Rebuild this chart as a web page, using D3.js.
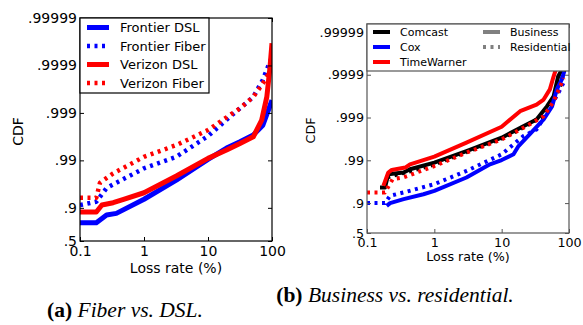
<!DOCTYPE html>
<html>
<head>
<meta charset="utf-8">
<script src="https://cdn.jsdelivr.net/npm/d3@7"></script>
<style>
  body { margin: 0; background: #fff; }
  svg { display: block; }
</style>
</head>
<body>
<svg class="chartSVG" width="583" height="325"></svg>
<script>
// ---- data: loss rate (%) and CDF ----
// (a) Fiber vs. DSL
const frontierDslLoss = [0.1, 0.18, 0.26, 0.37, 1, 3.2, 10, 19.5, 31.6, 51, 72, 100]
const frontierDslCdf = [0.794, 0.794, 0.858, 0.869, 0.934, 0.974, 0.9905, 0.99449, 0.99594, 0.99707, 0.99819, 0.99946]
const frontierFiberLoss = [0.1, 0.18, 0.26, 0.37, 1, 3.2, 10, 22, 31.6, 51, 72, 88, 100]
const frontierFiberCdf = [0.9127, 0.9256, 0.9617, 0.9704, 0.98528, 0.9916, 0.99692, 0.99879, 0.9992, 0.99954, 0.9998, 0.9999, 0.999934]
const verizonDslLoss = [0.1, 0.18, 0.22, 0.33, 0.48, 1, 3.2, 10, 19.5, 31.6, 51, 69, 83, 93, 100]
const verizonDslCdf = [0.8775, 0.8775, 0.9127, 0.9219, 0.934, 0.9519, 0.9786, 0.99092, 0.99393, 0.99561, 0.99682, 0.99858, 0.99954, 0.99989, 0.999966]
const verizonFiberLoss = [0.1, 0.18, 0.205, 0.33, 1, 3.2, 10, 22, 31.6, 51, 72, 91, 100]
const verizonFiberCdf = [0.9388, 0.9388, 0.9704, 0.9812, 0.9916, 0.99524, 0.9977, 0.99889, 0.9992, 0.99954, 0.99976, 0.99986, 0.99989]

// (b) Business vs. residential
const comcastBizLoss = [0.156, 0.185, 0.207, 0.35, 0.435, 1, 3, 10, 21, 33, 47, 59, 69, 78, 85]
const comcastBizCdf = [0.957, 0.957, 0.9788, 0.9807, 0.9838, 0.9887, 0.99392, 0.99704, 0.99841, 0.99889, 0.99945, 0.99968, 0.99989, 0.999923, 0.99997]
const comcastResLoss = [0.2, 0.3, 0.5, 1, 3, 10, 21, 42, 59, 74, 85]
const comcastResCdf = [0.975, 0.979, 0.983, 0.9875, 0.9936, 0.9969, 0.9983, 0.9991, 0.99962, 0.99982, 0.99992]
const coxBizLoss = [0.196, 0.22, 0.35, 0.69, 1, 3, 6.7, 10, 15, 17.8, 26, 42, 56, 66, 78, 85]
const coxBizCdf = [0.884, 0.9, 0.919, 0.938, 0.948, 0.9748, 0.9876, 0.99016, 0.99276, 0.99535, 0.99752, 0.99889, 0.99945, 0.99978, 0.99987, 0.999916]
const coxResLoss = [0.1, 0.185, 0.22, 0.35, 1, 3, 10, 21, 33, 47, 59, 74, 87]
const coxResCdf = [0.9, 0.9, 0.9324, 0.9436, 0.9639, 0.9823, 0.99276, 0.99728, 0.9981, 0.99922, 0.99958, 0.99978, 0.99987]
const twBizLoss = [0.175, 0.207, 0.233, 0.37, 0.435, 1, 3, 10, 18.8, 33, 42, 52, 59, 66]
const twBizCdf = [0.9604, 0.9807, 0.9832, 0.9852, 0.9876, 0.9918, 0.99613, 0.99836, 0.99929, 0.9995, 0.99962, 0.99978, 0.99989, 0.999936]
const twResLoss = [0.1, 0.185, 0.24, 0.35, 1, 3, 10, 21, 42, 59, 74, 83]
const twResCdf = [0.9436, 0.9436, 0.9723, 0.975, 0.9864, 0.99338, 0.99675, 0.99826, 0.99907, 0.99958, 0.99981, 0.99988]

// axis ticks
const xTicks = [0.1, 1, 10, 100]
const xTickLabels = ["0.1", "1", "10", "100"]
const yTicks = [0.5, 0.9, 0.99, 0.999, 0.9999, 0.99999]
const yTickLabels = [".5", ".9", ".99", ".999", ".9999", ".99999"]

const svg = d3.select(".chartSVG")
const FONT = "DejaVu Sans, sans-serif"
const DOT = "3,4.5"

function drawPanel(cfg) {
  const x = d3.scaleLog().domain([0.1, 100]).range([cfg.left, cfg.right])
  // y plotted as the tail 1 - CDF on a log scale
  const y = d3.scaleLog().domain([0.5, cfg.topTail]).range([cfg.bottom, cfg.top])

  const g = svg.append("g").attr("class", "panel")
  const clipId = "clip" + cfg.id
  g.append("clipPath").attr("id", clipId)
    .append("rect")
    .attr("x", cfg.left).attr("y", cfg.top)
    .attr("width", cfg.right - cfg.left).attr("height", cfg.bottom - cfg.top)

  const line = d3.line()
    .x(d => x(d[0]))
    .y(d => y(1 - d[1]))

  g.append("g").attr("clip-path", `url(#${clipId})`)
    .selectAll("path")
    .data(cfg.series)
    .join("path")
    .attr("d", d => line(d3.zip(d.loss, d.cdf)))
    .attr("fill", "none")
    .attr("stroke", d => d.color)
    .attr("stroke-width", d => d.dotted ? cfg.dotWidth : cfg.lineWidth)
    .attr("stroke-dasharray", d => d.dotted ? DOT : null)
    .attr("stroke-linejoin", "round")

  // axes with inward ticks
  const fmtY = d => yTickLabels[yTicks.findIndex(v => Math.abs(1 - v - d) < 1e-9)]
  const tails = yTicks.map(v => 1 - v)
  const axL = g.append("g").attr("transform", `translate(${cfg.left},0)`)
    .call(d3.axisLeft(y).tickValues(tails).tickFormat(fmtY).tickSize(-4).tickPadding(3))
  const axR = g.append("g").attr("transform", `translate(${cfg.right},0)`)
    .call(d3.axisRight(y).tickValues(tails).tickFormat("").tickSize(-4))
  const axB = g.append("g").attr("transform", `translate(0,${cfg.bottom})`)
    .call(d3.axisBottom(x).tickValues(xTicks).tickFormat((d, i) => xTickLabels[i]).tickSize(-4).tickPadding(4))
  const axT = g.append("g").attr("transform", `translate(0,${cfg.top})`)
    .call(d3.axisTop(x).tickValues(xTicks).tickFormat("").tickSize(-4))
  ;[axL, axR, axB, axT].forEach(a => {
    a.select(".domain").remove()
    a.selectAll("line").attr("stroke", cfg.frame)
    a.selectAll("text").attr("font-family", FONT).attr("font-size", cfg.font).attr("fill", "#000")
  })
  axB.selectAll("text").attr("dy", "0.8em")

  g.append("rect")
    .attr("x", cfg.left).attr("y", cfg.top)
    .attr("width", cfg.right - cfg.left).attr("height", cfg.bottom - cfg.top)
    .attr("fill", "none").attr("stroke", cfg.frame).attr("stroke-width", 1.2)

  g.append("text")
    .attr("transform", `translate(${cfg.ylabX},${(cfg.top + cfg.bottom) / 2 + 2}) rotate(-90)`)
    .attr("text-anchor", "middle").attr("dominant-baseline", "middle")
    .attr("font-family", FONT).attr("font-size", cfg.font)
    .text("CDF")
  g.append("text")
    .attr("x", (cfg.left + cfg.right) / 2).attr("y", cfg.xlabY)
    .attr("text-anchor", "middle")
    .attr("font-family", FONT).attr("font-size", cfg.font)
    .text("Loss rate (%)")

  // legend
  const lg = cfg.legend
  g.append("rect")
    .attr("x", lg.x).attr("y", lg.y).attr("width", lg.w).attr("height", lg.h)
    .attr("fill", "#fff").attr("stroke", cfg.frame).attr("stroke-width", 1.2)
  const items = g.append("g").selectAll("g")
    .data(lg.items)
    .join("g")
    .attr("transform", d => `translate(${lg.x + d.col},${lg.y + lg.row0 + d.row * lg.rowH})`)
  items.append("line")
    .attr("x1", lg.sx).attr("x2", lg.sx + lg.sw).attr("y1", 0).attr("y2", 0)
    .attr("stroke", d => d.color)
    .attr("stroke-width", d => d.dotted ? cfg.dotWidth : cfg.lineWidth)
    .attr("stroke-dasharray", d => d.dotted ? DOT : null)
  items.append("text")
    .attr("x", lg.tx).attr("y", 0).attr("dy", "0.35em")
    .attr("font-family", FONT).attr("font-size", lg.font)
    .text(d => d.label)
}

drawPanel({
  id: "a", left: 80, right: 272, top: 18, bottom: 241, topTail: 1e-5,
  frame: "#000", font: 14, lineWidth: 5, dotWidth: 4.5, ylabX: 19, xlabY: 273,
  series: [
    { loss: frontierDslLoss, cdf: frontierDslCdf, color: "#0000ff" },
    { loss: frontierFiberLoss, cdf: frontierFiberCdf, color: "#0000ff", dotted: true },
    { loss: verizonDslLoss, cdf: verizonDslCdf, color: "#ff0000" },
    { loss: verizonFiberLoss, cdf: verizonFiberCdf, color: "#ff0000", dotted: true },
  ],
  legend: {
    x: 80, y: 18, w: 129, h: 75, row0: 9.5, rowH: 18.5, sx: 7, sw: 22, tx: 40, font: 13,
    items: [
      { label: "Frontier DSL", color: "#0000ff", row: 0, col: 0 },
      { label: "Frontier Fiber", color: "#0000ff", dotted: true, row: 1, col: 0 },
      { label: "Verizon DSL", color: "#ff0000", row: 2, col: 0 },
      { label: "Verizon Fiber", color: "#ff0000", dotted: true, row: 3, col: 0 },
    ]
  }
})

drawPanel({
  id: "b", left: 367, right: 569, top: 24, bottom: 233, topTail: Math.pow(10, -5.186),
  frame: "#555", font: 12.7, lineWidth: 4, dotWidth: 4, ylabX: 311, xlabY: 261,
  series: [
    { loss: comcastBizLoss, cdf: comcastBizCdf, color: "#000" },
    { loss: comcastResLoss, cdf: comcastResCdf, color: "#000", dotted: true },
    { loss: coxBizLoss, cdf: coxBizCdf, color: "#0000ff" },
    { loss: coxResLoss, cdf: coxResCdf, color: "#0000ff", dotted: true },
    { loss: twBizLoss, cdf: twBizCdf, color: "#ff0000" },
    { loss: twResLoss, cdf: twResCdf, color: "#ff0000", dotted: true },
  ],
  legend: {
    x: 367, y: 24, w: 202, h: 47, row0: 8, rowH: 15, sx: 6, sw: 17, tx: 33, font: 11,
    items: [
      { label: "Comcast", color: "#000", row: 0, col: 0 },
      { label: "Cox", color: "#0000ff", row: 1, col: 0 },
      { label: "TimeWarner", color: "#ff0000", row: 2, col: 0 },
      { label: "Business", color: "#808080", row: 0, col: 110 },
      { label: "Residential", color: "#808080", dotted: true, row: 1, col: 110 },
    ]
  }
})

// captions
const captions = [
  { x: 125, y: 317, bold: "(a)", italic: " Fiber vs. DSL." },
  { x: 395, y: 302, bold: "(b)", italic: " Business vs. residential." },
]
const cap = svg.selectAll(".caption")
  .data(captions)
  .join("text")
  .attr("class", "caption")
  .attr("x", d => d.x).attr("y", d => d.y)
  .attr("text-anchor", "middle")
  .attr("font-family", "Liberation Serif, Times New Roman, serif")
  .attr("font-size", 21.5)
cap.append("tspan").attr("font-weight", "bold").text(d => d.bold)
cap.append("tspan").attr("font-style", "italic").text(d => d.italic)
</script>
</body>
</html>
